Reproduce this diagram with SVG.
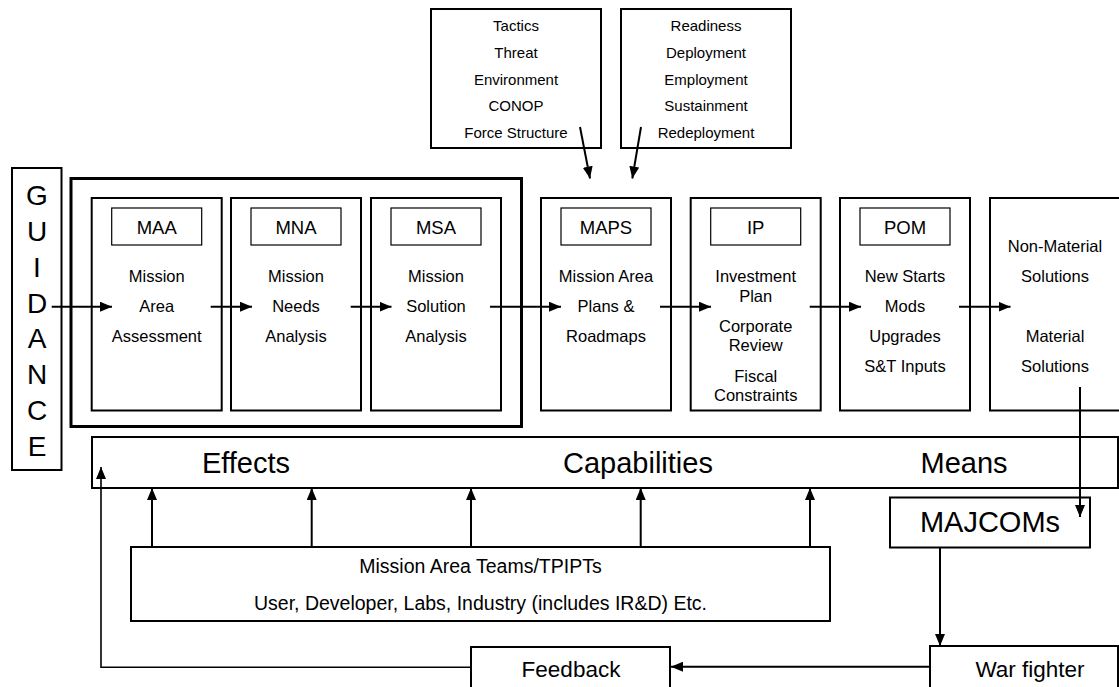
<svg xmlns="http://www.w3.org/2000/svg" width="1119" height="687" viewBox="0 0 1119 687">
<style>
text{font-family:"Liberation Sans",Arial,sans-serif;fill:#000;text-anchor:middle}
.box{fill:#fff;stroke:#000;stroke-width:2}
.thin{fill:#fff;stroke:#000;stroke-width:1.2}
.outer{fill:none;stroke:#000;stroke-width:3}
.t15{font-size:15px}
.t16{font-size:16.5px}
.lbl{font-size:18.5px}
.big{font-size:29px}
.t19{font-size:19.5px}
.t23{font-size:22.5px}
.g{font-size:28px}
.ln{fill:none;stroke:#000;stroke-width:2}
</style>
<defs>
<marker id="ah" viewBox="0 0 12 10" refX="12" refY="5" markerWidth="12" markerHeight="10" markerUnits="userSpaceOnUse" orient="auto">
<path d="M0,0 L12,5 L0,10 z" fill="#000"/>
</marker>
</defs>
<rect width="1119" height="687" fill="#fff"/>

<g id="context-box">
<rect class="box" x="431" y="9" width="170" height="139"/>
<text class="t15" x="516" y="31">Tactics</text>
<text class="t15" x="516" y="57.5">Threat</text>
<text class="t15" x="516" y="84.5">Environment</text>
<text class="t15" x="516" y="111">CONOP</text>
<text class="t15" x="516" y="138">Force Structure</text>
</g>
<g id="ops-box">
<rect class="box" x="621" y="9" width="170" height="139"/>
<text class="t15" x="706" y="31">Readiness</text>
<text class="t15" x="706" y="57.5">Deployment</text>
<text class="t15" x="706" y="84.5">Employment</text>
<text class="t15" x="706" y="111">Sustainment</text>
<text class="t15" x="706" y="138">Redeployment</text>
</g>

<g id="guidance">
<rect class="box" x="12" y="168" width="49.5" height="302"/>
<text class="g" x="37" y="205">G</text>
<text class="g" x="37" y="241">U</text>
<text class="g" x="37" y="277">I</text>
<text class="g" x="37" y="312.5">D</text>
<text class="g" x="37" y="348">A</text>
<text class="g" x="37" y="384">N</text>
<text class="g" x="37" y="420">C</text>
<text class="g" x="37" y="456">E</text>
</g>

<g id="analysis-group">
<rect class="outer" x="71" y="178.5" width="450.5" height="248"/>
</g>

<g id="maa">
<rect class="box" x="91.7" y="198" width="130" height="212.5"/>
<rect class="thin" x="111.7" y="208" width="90" height="37"/>
<text class="lbl" x="156.7" y="234">MAA</text>
<text class="t16" x="156.7" y="282">Mission</text>
<text class="t16" x="156.7" y="311.5">Area</text>
<text class="t16" x="156.7" y="341.5">Assessment</text>
</g>
<g id="mna">
<rect class="box" x="231" y="198" width="130" height="212.5"/>
<rect class="thin" x="251" y="208" width="90" height="37"/>
<text class="lbl" x="296" y="234">MNA</text>
<text class="t16" x="296" y="282">Mission</text>
<text class="t16" x="296" y="311.5">Needs</text>
<text class="t16" x="296" y="341.5">Analysis</text>
</g>
<g id="msa">
<rect class="box" x="371" y="198" width="130" height="212.5"/>
<rect class="thin" x="391" y="208" width="90" height="37"/>
<text class="lbl" x="436" y="234">MSA</text>
<text class="t16" x="436" y="282">Mission</text>
<text class="t16" x="436" y="311.5">Solution</text>
<text class="t16" x="436" y="341.5">Analysis</text>
</g>
<g id="maps">
<rect class="box" x="541" y="198" width="130" height="212.5"/>
<rect class="thin" x="561" y="208" width="90" height="37"/>
<text class="lbl" x="606" y="234">MAPS</text>
<text class="t16" x="606" y="282">Mission Area</text>
<text class="t16" x="606" y="311.5">Plans &amp;</text>
<text class="t16" x="606" y="341.5">Roadmaps</text>
</g>
<g id="ip">
<rect class="box" x="690.7" y="198" width="130" height="212.5"/>
<rect class="thin" x="710.7" y="208" width="90" height="37"/>
<text class="lbl" x="755.7" y="234">IP</text>
<text class="t16" x="755.7" y="282">Investment</text>
<text class="t16" x="755.7" y="301.5">Plan</text>
<text class="t16" x="755.7" y="331.5">Corporate</text>
<text class="t16" x="755.7" y="351">Review</text>
<text class="t16" x="755.7" y="381.5">Fiscal</text>
<text class="t16" x="755.7" y="401">Constraints</text>
</g>
<g id="pom">
<rect class="box" x="840" y="198" width="130" height="212.5"/>
<rect class="thin" x="860" y="208" width="90" height="37"/>
<text class="lbl" x="905" y="234">POM</text>
<text class="t16" x="905" y="282">New Starts</text>
<text class="t16" x="905" y="311.5">Mods</text>
<text class="t16" x="905" y="341.5">Upgrades</text>
<text class="t16" x="905" y="371.5">S&amp;T Inputs</text>
</g>
<g id="solutions">
<rect class="box" x="990" y="198" width="130" height="212.5"/>
<text class="t16" x="1055" y="251.5">Non-Material</text>
<text class="t16" x="1055" y="281.5">Solutions</text>
<text class="t16" x="1055" y="341.5">Material</text>
<text class="t16" x="1055" y="371.5">Solutions</text>
</g>

<g id="ecm-bar">
<rect class="box" x="92" y="437" width="1026" height="51"/>
<text class="big" x="246" y="473">Effects</text>
<text class="big" x="638" y="473">Capabilities</text>
<text class="big" x="964" y="473">Means</text>
</g>

<g id="teams">
<rect class="box" x="131" y="547" width="699" height="74"/>
<text class="t19" x="480.5" y="573">Mission Area Teams/TPIPTs</text>
<text class="t19" x="480.5" y="610">User, Developer, Labs, Industry (includes IR&amp;D) Etc.</text>
</g>

<g id="majcoms">
<rect class="box" x="890" y="497.5" width="200" height="50"/>
<text class="big" x="990" y="531.5">MAJCOMs</text>
</g>

<g id="feedback">
<rect class="box" x="471" y="647" width="199" height="50"/>
<text class="t23" x="571" y="677">Feedback</text>
</g>

<g id="warfighter">
<rect class="box" x="930" y="646" width="188" height="50"/>
<text class="t23" x="1030" y="677">War fighter</text>
</g>

<g id="connectors">
<line class="ln" x1="580" y1="127" x2="590" y2="178.5" marker-end="url(#ah)"/>
<line class="ln" x1="641" y1="127" x2="632.3" y2="178.5" marker-end="url(#ah)"/>
<line class="ln" x1="51.7" y1="306.7" x2="112" y2="306.7" marker-end="url(#ah)"/>
<line class="ln" x1="210.7" y1="306.7" x2="252" y2="306.7" marker-end="url(#ah)"/>
<line class="ln" x1="350.7" y1="306.7" x2="391.5" y2="306.7" marker-end="url(#ah)"/>
<line class="ln" x1="490" y1="306.7" x2="561" y2="306.7" marker-end="url(#ah)"/>
<line class="ln" x1="660" y1="306.7" x2="711" y2="306.7" marker-end="url(#ah)"/>
<line class="ln" x1="809.7" y1="306.7" x2="861" y2="306.7" marker-end="url(#ah)"/>
<line class="ln" x1="959" y1="306.7" x2="1010.5" y2="306.7" marker-end="url(#ah)"/>
<line class="ln" x1="152" y1="547" x2="152" y2="488" marker-end="url(#ah)"/>
<line class="ln" x1="311.7" y1="547" x2="311.7" y2="488" marker-end="url(#ah)"/>
<line class="ln" x1="471" y1="547" x2="471" y2="488" marker-end="url(#ah)"/>
<line class="ln" x1="640.7" y1="547" x2="640.7" y2="488" marker-end="url(#ah)"/>
<line class="ln" x1="810" y1="547" x2="810" y2="488" marker-end="url(#ah)"/>
<line class="ln" x1="1080" y1="387" x2="1080" y2="517" marker-end="url(#ah)"/>
<line class="ln" x1="940" y1="547.5" x2="940" y2="646" marker-end="url(#ah)"/>
<line class="ln" x1="930" y1="666.7" x2="671" y2="666.7" marker-end="url(#ah)"/>
<polyline fill="none" stroke="#000" stroke-width="1.6" points="471,667.3 101,667.3 101,467" marker-end="url(#ah)"/>
</g>
</svg>
